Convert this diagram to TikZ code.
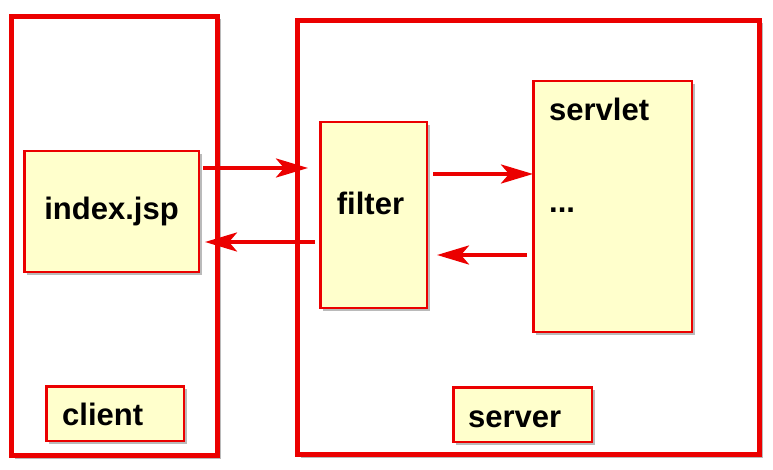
\documentclass[tikz,border=0pt]{standalone}
\usepackage{fontspec}
\setmainfont{Liberation Sans}
\usetikzlibrary{arrows.meta,shadows}

\definecolor{boxred}{RGB}{235,0,0}
\definecolor{boxfill}{RGB}{255,255,204}

\tikzset{
    frame/.style = {draw=boxred, line width=4.5pt, fill=white, inner sep=0pt,
        drop shadow={shadow xshift=3pt, shadow yshift=-3pt, fill=black!60, opacity=0.45}},
    part/.style = {draw=boxred, line width=2.5pt, fill=boxfill, inner sep=0pt,
        font=\bfseries\fontsize{31}{36}\selectfont,
        drop shadow={shadow xshift=3pt, shadow yshift=-3pt, fill=black!60, opacity=0.45}},
    lbl/.style = {inner sep=0pt, font=\bfseries\fontsize{31}{36}\selectfont},
    flow/.style = {draw=boxred, line width=4pt, -{Stealth[length=32pt, width=19pt, inset=8pt]}}
}

\begin{document}
\begin{tikzpicture}[x=1pt, y=1pt]
        \useasboundingbox (0,0) rectangle (773,469);

        % Outer frames
        \node[frame, minimum width=206, minimum height=439] (clientbox) at (114.5,233) {}; % client side
        \node[frame, minimum width=462, minimum height=434] (serverbox) at (528.5,231.5) {}; % server side

        % Parts on the client side
        \node[part, minimum width=174.5, minimum height=120.5] (idx) at (111.5,257.5) {index.jsp};
        \node[part, minimum width=137.5, minimum height=54.5] (client) at (115,55.5) {};
        \node[lbl, anchor=base west] at ([shift={(17pt,-40pt)}]client.north west) {client};

        % Parts on the server side
        \node[part, minimum width=106.5, minimum height=185.5] (filter) at (373.5,254) {};
        \node[lbl, anchor=base] at ([xshift=-3pt]filter.center) {filter};

        \node[part, minimum width=158.5, minimum height=250.5] (servlet) at (612.5,262.5) {};
        \node[lbl, anchor=base west] at ([shift={(17pt,-41pt)}]servlet.north west) {servlet};
        \node[lbl, anchor=base west] at ([shift={(17pt,-133pt)}]servlet.north west) {...};

        \node[part, minimum width=138.5, minimum height=54.5] (server) at (522.5,54.5) {};
        \node[lbl, anchor=base west] at ([shift={(16pt,-41pt)}]server.north west) {server};

        % Request and response between client and filter
        \draw[flow] ([shift={(3pt,43.5pt)}]idx.east) -- ([shift={(-11pt,47pt)}]filter.west);
        \draw[flow] ([shift={(-4pt,-27pt)}]filter.west) -- ([shift={(5pt,-30.5pt)}]idx.east);

        % Request and response between filter and servlet
        \draw[flow] ([shift={(5pt,41pt)}]filter.east) -- ([shift={(1pt,32.5pt)}]servlet.west);
        \draw[flow] ([shift={(-5pt,-48.5pt)}]servlet.west) -- ([shift={(9pt,-40pt)}]filter.east);
        \end{tikzpicture}
\end{document}
